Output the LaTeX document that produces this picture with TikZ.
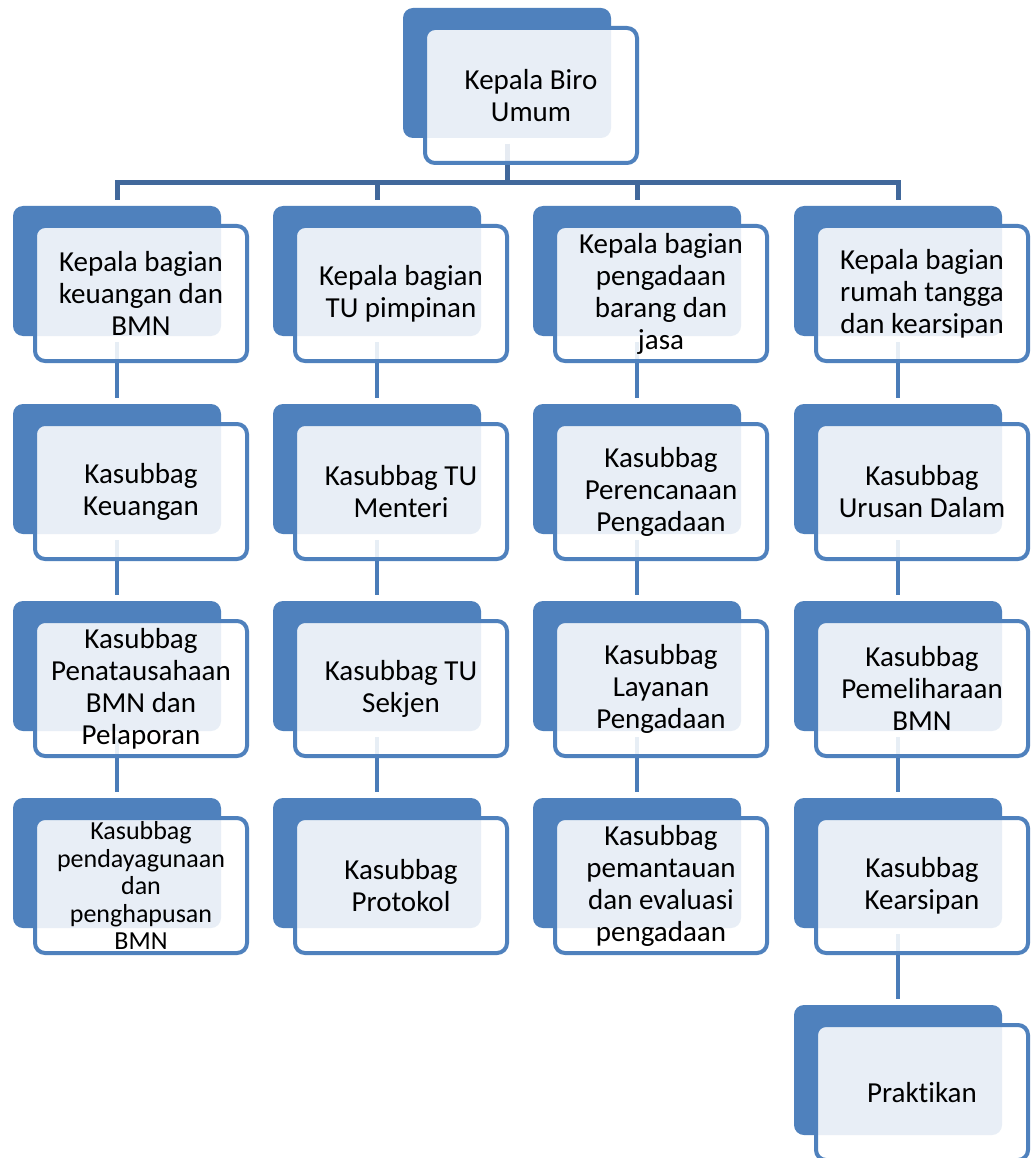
\documentclass[tikz,border=0pt]{standalone}
\usepackage{fontspec}
\setmainfont{Carlito}[Ligatures=NoCommon]
\usetikzlibrary{calc}
\pgfdeclarelayer{bg}
\pgfsetlayers{bg,main}
\definecolor{acc}{HTML}{4F81BD}
\definecolor{busc}{HTML}{41689B}
\definecolor{linec}{HTML}{4A7CB8}
\tikzset{
 backbox/.style={rectangle, rounded corners=10pt, fill=acc, minimum width=208pt, minimum height=130pt, inner sep=0pt, outer sep=0pt, anchor=north west},
 frontbox/.style={rectangle, rounded corners=10pt, draw=acc, line width=4pt, fill=white, fill opacity=0.87, text opacity=1, minimum width=212pt, minimum height=135pt, inner sep=0pt, outer sep=0pt, anchor=north west, align=center, font=\fontsize{29}{32}\selectfont, text=black},
 smalltext/.style={font=\fontsize{26}{27.5}\selectfont},
 conn/.style={draw=linec, line width=4pt},
 busline/.style={draw=busc, line width=5pt, line join=miter},
}
\newcommand\orgpair[5][]{%
 \node[backbox] (#2b) at (#3,#4) {};
 \node[frontbox,#1] (#2) at (#3+22,#4+20) {#5};
}
\begin{document}
\begin{tikzpicture}[x=1pt,y=-1pt]
\useasboundingbox (0,0) rectangle (1030,1158);
\clip (0,0) rectangle (1030,1158);
% top
\orgpair{top}{403}{8}{Kepala Biro\\Umum}
% column 1
\orgpair{a1}{13}{206}{Kepala bagian\\keuangan dan\\BMN}
\orgpair{a2}{13}{404}{Kasubbag\\Keuangan}
\orgpair{a3}{13}{601}{Kasubbag\\Penatausahaan\\BMN dan\\Pelaporan}
\orgpair[smalltext]{a4}{13}{798}{Kasubbag\\pendayagunaan\\dan\\penghapusan\\BMN}
% column 2
\orgpair{b1}{273}{206}{Kepala bagian\\TU pimpinan}
\orgpair{b2}{273}{404}{Kasubbag TU\\Menteri}
\orgpair{b3}{273}{601}{Kasubbag TU\\Sekjen}
\orgpair{b4}{273}{798}{Kasubbag\\Protokol}
% column 3
\orgpair{c1}{533}{206}{Kepala bagian\\pengadaan\\barang dan\\jasa}
\orgpair{c2}{533}{404}{Kasubbag\\Perencanaan\\Pengadaan}
\orgpair{c3}{533}{601}{Kasubbag\\Layanan\\Pengadaan}
\orgpair{c4}{533}{798}{Kasubbag\\pemantauan\\dan evaluasi\\pengadaan}
% column 4
\orgpair{d1}{794}{206}{Kepala bagian\\rumah tangga\\dan kearsipan}
\orgpair{d2}{794}{404}{Kasubbag\\Urusan Dalam}
\orgpair{d3}{794}{601}{Kasubbag\\Pemeliharaan\\BMN}
\orgpair{d4}{794}{798}{Kasubbag\\Kearsipan}
\orgpair{d5}{794}{1005}{Praktikan}
\begin{pgfonlayer}{bg}
 \fill[white] (0,0) rectangle (1030,1158);
 \coordinate (bus) at (0,183);
 \draw[busline] ([yshift=-6pt]topb.south) -- (topb.south |- bus);
 \draw[busline] ([yshift=6pt]a1b.north) |- (d1b.north |- bus) -- ([yshift=6pt]d1b.north);
 \draw[busline] (b1b.north |- bus) -- ([yshift=6pt]b1b.north);
 \draw[busline] (c1b.north |- bus) -- ([yshift=6pt]c1b.north);
 \foreach \c in {a,b,c,d}{
  \draw[conn] ([yshift=-6pt]\c1b.south) -- ([yshift=6pt]\c2b.north);
  \draw[conn] ([yshift=-6pt]\c2b.south) -- ([yshift=6pt]\c3b.north);
  \draw[conn] ([yshift=-6pt]\c3b.south) -- ([yshift=6pt]\c4b.north);
 }
 \draw[conn] ([yshift=-6pt]d4b.south) -- ([yshift=6pt]d5b.north);
\end{pgfonlayer}
\end{tikzpicture}
\end{document}
